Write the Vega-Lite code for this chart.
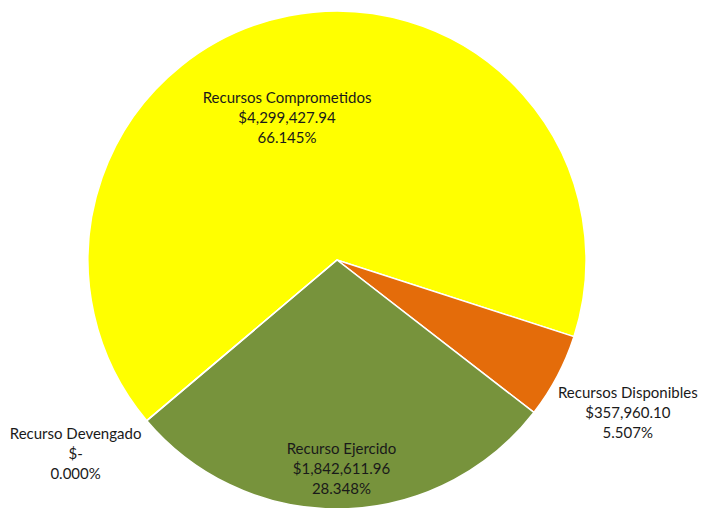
{
  "$schema": "https://vega.github.io/schema/vega-lite/v6.json",
  "width": 674,
  "height": 496,
  "padding": {"left": 0, "top": 12, "right": 29, "bottom": 0},
  "autosize": {"type": "none"},
  "background": "white",
  "config": {"view": {"stroke": null}},
  "data": {
    "values": [
      {"cat": "Recursos Comprometidos", "value": 4299427.94, "ord": 1, "label": "Recursos Comprometidos\n$4,299,427.94\n66.145%"},
      {"cat": "Recursos Disponibles", "value": 357960.10, "ord": 2, "label": "Recursos Disponibles\n$357,960.10\n5.507%"},
      {"cat": "Recurso Ejercido", "value": 1842611.96, "ord": 3, "label": "Recurso Ejercido\n$1,842,611.96\n28.348%"},
      {"cat": "Recurso Devengado", "value": 0, "ord": 4, "label": "Recurso Devengado\n$-\n0.000%"}
    ]
  },
  "encoding": {
    "theta": {"field": "value", "type": "quantitative", "stack": true, "scale": {"range": [4.011, 10.294]}},
    "order": {"field": "ord", "type": "quantitative", "sort": "ascending"}
  },
  "layer": [
    {
      "mark": {"type": "arc", "outerRadius": 249, "stroke": "white", "strokeWidth": 1.5},
      "encoding": {
        "color": {
          "field": "cat", "type": "nominal", "legend": null,
          "scale": {
            "domain": ["Recursos Comprometidos", "Recursos Disponibles", "Recurso Ejercido", "Recurso Devengado"],
            "range": ["#FFFF00", "#E46C0A", "#77933C", "#4F81BD"]
          }
        }
      }
    },
    {
      "mark": {"type": "text", "radius": 145, "dx": -22, "dy": -20, "lineBreak": "\n", "lineHeight": 20, "font": "Lato", "fontSize": 15, "color": "#1a1a1a", "align": "center", "baseline": "middle"},
      "encoding": {"text": {"field": "label", "type": "nominal", "condition": {"test": "datum.cat !== 'Recursos Comprometidos'", "value": ""}}}
    },
    {
      "mark": {"type": "text", "radius": 330, "dx": -1, "dy": -21, "lineBreak": "\n", "lineHeight": 20, "font": "Lato", "fontSize": 15, "color": "#1a1a1a", "align": "center", "baseline": "middle"},
      "encoding": {"text": {"field": "label", "type": "nominal", "condition": {"test": "datum.cat !== 'Recursos Disponibles'", "value": ""}}}
    },
    {
      "mark": {"type": "text", "radius": 208, "dx": 0, "dy": -19, "lineBreak": "\n", "lineHeight": 20, "font": "Lato", "fontSize": 15, "color": "#1a1a1a", "align": "center", "baseline": "middle"},
      "encoding": {"text": {"field": "label", "type": "nominal", "condition": {"test": "datum.cat !== 'Recurso Ejercido'", "value": ""}}}
    },
    {
      "mark": {"type": "text", "radius": 320, "dx": -17, "dy": -33, "lineBreak": "\n", "lineHeight": 20, "font": "Lato", "fontSize": 15, "color": "#1a1a1a", "align": "center", "baseline": "middle"},
      "encoding": {"text": {"field": "label", "type": "nominal", "condition": {"test": "datum.cat !== 'Recurso Devengado'", "value": ""}}}
    }
  ]
}
